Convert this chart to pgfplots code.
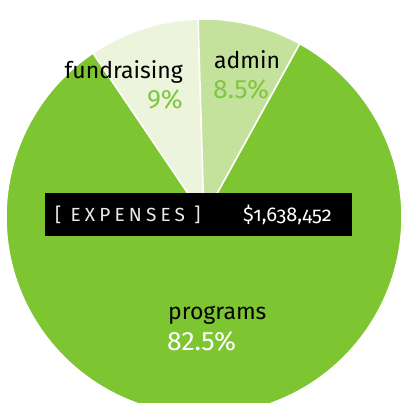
\documentclass[border=0pt]{standalone}
\usepackage{pgfplots}
\pgfplotsset{compat=1.18}
\usepackage{pgfplotstable}
\usepackage{fontspec}
\setmainfont{Fira Sans}
\newfontfamily\oldnum[Numbers=OldStyle]{Fira Sans}
\newfontfamily\spaced[LetterSpace=22]{Fira Sans}
\definecolor{prog}{HTML}{7DC531}
\definecolor{adm}{HTML}{C5E29C}
\definecolor{fund}{HTML}{ECF4DB}
\definecolor{pct}{HTML}{80C741}
\pgfplotstableread{
label value
admin 8.5
fundraising 9
programs 82.5
}\expenses
\begin{document}
\begin{tikzpicture}
\pgfplotstablegetelem{0}{value}\of\expenses \let\va\pgfplotsretval
\pgfplotstablegetelem{1}{value}\of\expenses \let\vf\pgfplotsretval
\pgfplotstablegetelem{2}{value}\of\expenses \let\vp\pgfplotsretval
\pgfmathsetmacro{\aA}{61.1}
\pgfmathsetmacro{\aB}{\aA+3.6*\va}
\pgfmathsetmacro{\aC}{\aB+3.6*\vf}
\pgfmathsetmacro{\aD}{\aC+3.6*\vp}
\begin{axis}[hide axis, scale only axis, width=402pt, height=403pt,
  xmin=-204, xmax=198, ymin=-186, ymax=217, clip=true]
\addplot[fill=prog, draw=white, line width=1.5pt, data cs=polar, domain=\aC:\aD, samples=200] ({x},{198}) -- (axis cs:0,0) -- cycle;
\addplot[fill=fund, draw=white, line width=1.5pt, data cs=polar, domain=\aB:\aC, samples=30] ({x},{198}) -- (axis cs:0,0) -- cycle;
\addplot[fill=adm, draw=white, line width=1.5pt, data cs=polar, domain=\aA:\aB, samples=30] ({x},{198}) -- (axis cs:0,0) -- cycle;
\fill[black] (axis cs:-159,-19) rectangle (axis cs:148,24);
\node[anchor=base east, inner sep=0pt, font=\fontsize{23}{23}\selectfont] at (axis cs:-21,138) {fundraising};
\node[anchor=base east, inner sep=0pt, text=pct, font=\fontsize{26.5}{26.5}\selectfont] at (axis cs:-21,108) {9\%};
\node[anchor=base west, inner sep=0pt, font=\fontsize{23}{23}\selectfont] at (axis cs:10,148) {admin};
\node[anchor=base west, inner sep=0pt, text=pct, font=\fontsize{26.5}{26.5}\selectfont] at (axis cs:9,118) {8.5\%};
\node[anchor=base west, inner sep=0pt, font=\fontsize{23}{23}\selectfont] at (axis cs:-36,-103) {programs};
\node[anchor=base west, inner sep=0pt, text=white, font=\fontsize{26.5}{26.5}\selectfont] at (axis cs:-37,-134) {82.5\%};
\node[anchor=base west, inner sep=0pt, text=white!92!black, font=\spaced\fontsize{19}{19}\selectfont] at (axis cs:-149,-5) {[ EXPENSES ]};
\node[anchor=base west, inner sep=0pt, text=white, font=\oldnum\fontsize{20}{20}\selectfont] at (axis cs:39,-5) {\$1,638,452};
\end{axis}
\pgfresetboundingbox
\useasboundingbox (current axis.south west) rectangle (current axis.north east);
\end{tikzpicture}
\end{document}
